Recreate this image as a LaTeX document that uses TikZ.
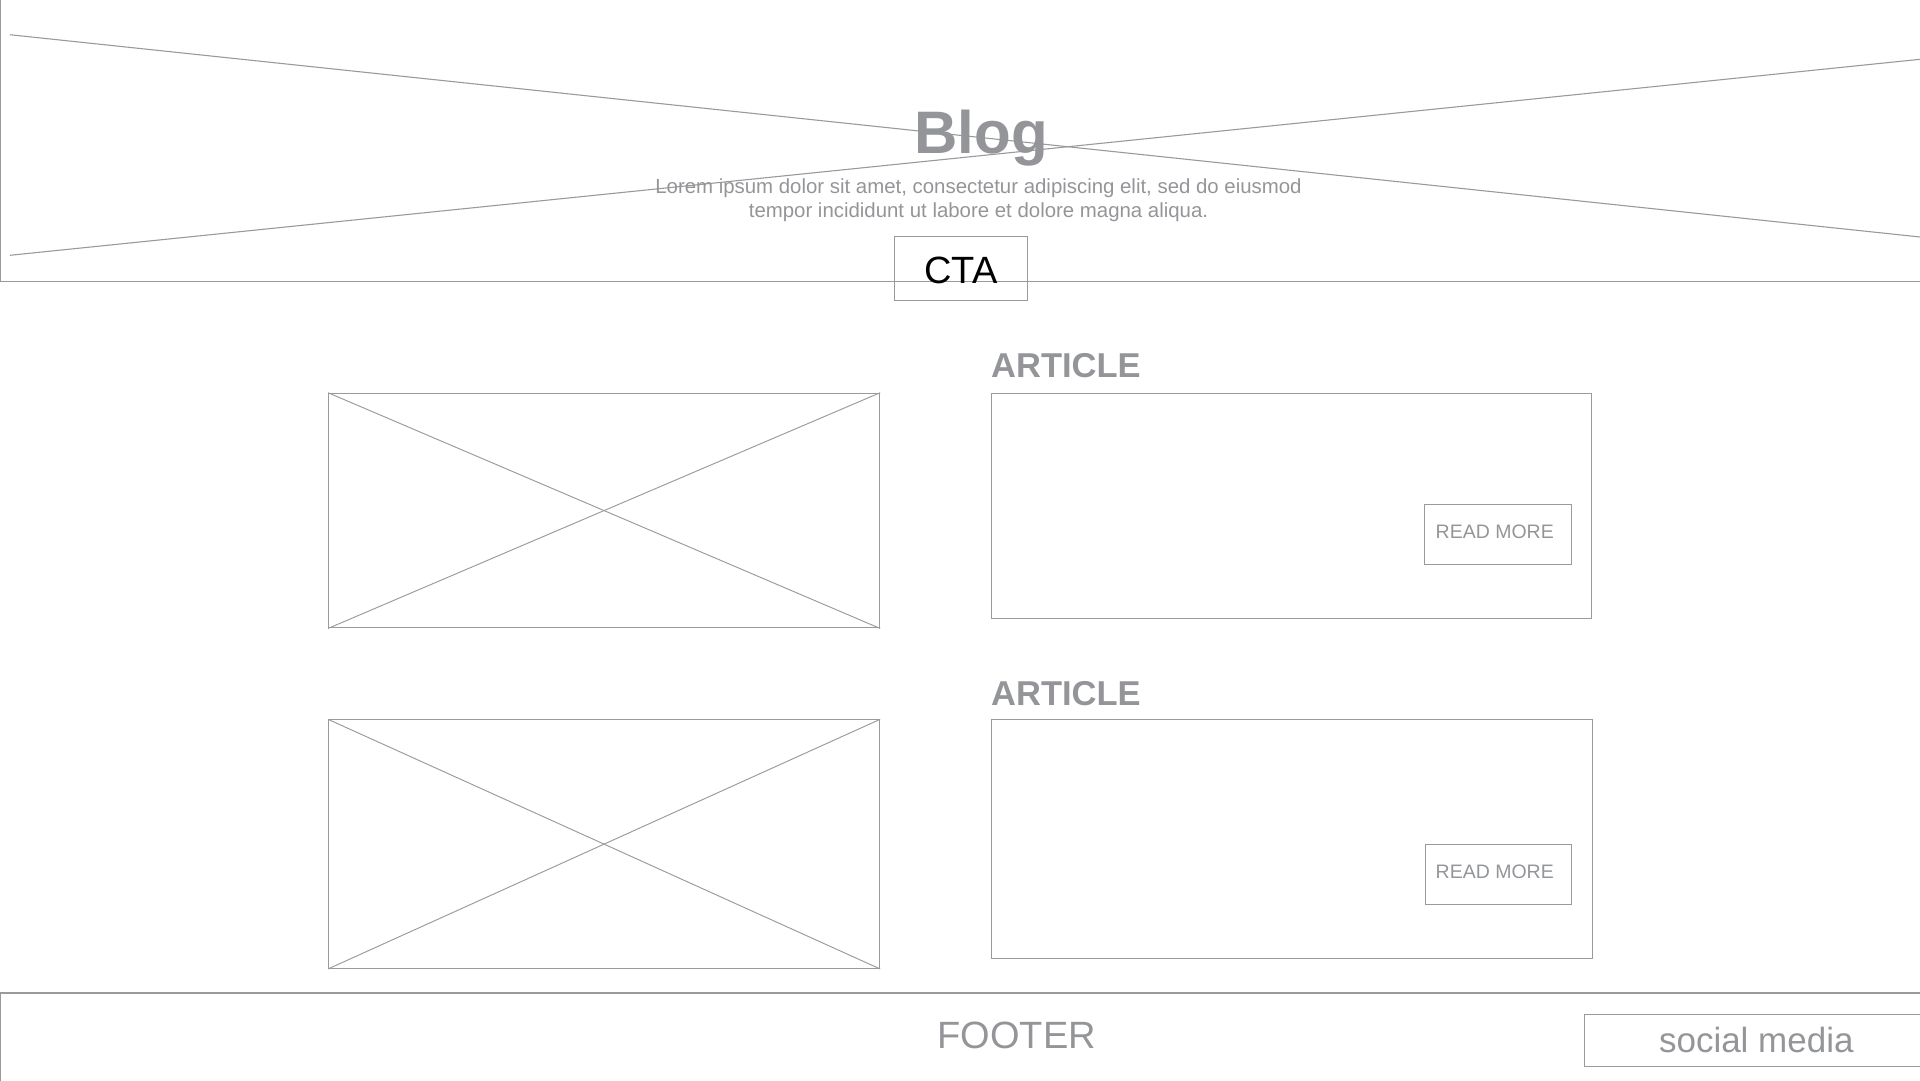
\documentclass[tikz,border=0pt]{standalone}
\usepackage{fontspec}
\setmainfont{Liberation Sans}
\definecolor{wline}{HTML}{9A9A9A}
\definecolor{wtext}{HTML}{939598}
\tikzset{
  wbox/.style={draw=wline, line width=1.15pt, inner sep=0pt, anchor=north west},
  wcross/.style={draw=wline, line width=0.95pt},
  wtxt/.style={inner sep=0pt, text=wtext},
}
\begin{document}
\begin{tikzpicture}[x=1pt,y=-1pt]
\useasboundingbox (0,0) rectangle (1920,1080);
% header
\coordinate (hA) at (9.8,34.7);
\coordinate (hB) at (1922,237.2);
\coordinate (hC) at (9.8,255.3);
\coordinate (hD) at (1922,59.1);
\coordinate (hTL) at (0.6,-2);
\coordinate (hBL) at (0.6,281.3);
\coordinate (hBR) at (1922,281.3);
\draw[wline, line width=1.1pt] (hA) -- (hB);
\draw[wline, line width=1.1pt] (hC) -- (hD);
\draw[wline, line width=1.2pt] (hTL) -- (hBL) -- (hBR);
\node[wtxt, anchor=base, font=\bfseries\fontsize{60}{60}\selectfont] (title) at (981,153) {Blog};
\node[wtxt, anchor=base, font=\fontsize{20.4}{24}\selectfont, align=center] (lorem) at (978.5,217) {Lorem ipsum dolor sit amet, consectetur adipiscing elit, sed do eiusmod\\tempor incididunt ut labore et dolore magna aliqua.};
\node[wbox, minimum width=132.4pt, minimum height=64pt] (cta) at (894.3,236.3) {};
\node[inner sep=0pt, anchor=base, text=black, font=\fontsize{38}{38}\selectfont] (ctat) at (961,283.3) {CTA};
% article 1
\node[wbox, minimum width=551pt, minimum height=234.6pt] (img1) at (328,392.7) {};
\draw[wcross] (img1.north west) -- (img1.south east);
\draw[wcross] (img1.south west) -- (img1.north east);
\node[wtxt, anchor=base west, font=\bfseries\fontsize{34.5}{34}\selectfont] (h1) at (991,377.3) {ARTICLE};
\node[wbox, minimum width=600pt, minimum height=225pt] (art1) at (991.3,392.7) {};
\node[wbox, minimum width=146.4pt, minimum height=60pt] (rm1) at (1424.3,504.3) {};
\node[wtxt, anchor=base west, font=\fontsize{19.5}{20}\selectfont] (rm1t) at (1435.5,538) {READ MORE};
% article 2
\node[wbox, minimum width=551pt, minimum height=248.5pt] (img2) at (328,719.3) {};
\draw[wcross] (img2.north west) -- (img2.south east);
\draw[wcross] (img2.south west) -- (img2.north east);
\node[wtxt, anchor=base west, font=\bfseries\fontsize{34.5}{34}\selectfont] (h2) at (991,705) {ARTICLE};
\node[wbox, minimum width=600.5pt, minimum height=239pt] (art2) at (991.3,719.3) {};
\node[wbox, minimum width=146pt, minimum height=60.3pt] (rm2) at (1424.5,844) {};
\node[wtxt, anchor=base west, font=\fontsize{19.5}{20}\selectfont] (rm2t) at (1435.5,878.3) {READ MORE};
% footer
\coordinate (fTL) at (1922,993);
\coordinate (fL) at (0.6,993);
\coordinate (fB) at (0.6,1082);
\draw[wline, line width=1.2pt] (fTL) -- (fL) -- (fB);
\node[wtxt, anchor=base, font=\fontsize{38}{38}\selectfont] (foot) at (1016.7,1048.7) {FOOTER};
\node[wbox, minimum width=340pt, minimum height=51.5pt] (soc) at (1584.3,1014) {};
\node[wtxt, anchor=base, font=\fontsize{35}{35}\selectfont] (soct) at (1756.3,1052.3) {social media};
\end{tikzpicture}
\end{document}
